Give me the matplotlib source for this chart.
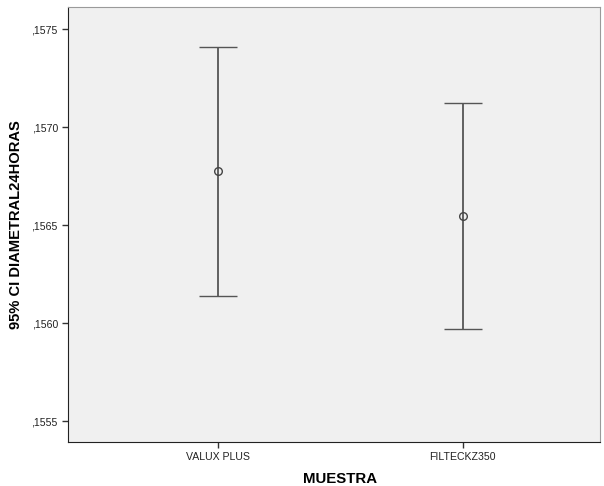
import matplotlib
matplotlib.use("Agg")
import matplotlib.pyplot as plt
from matplotlib.ticker import FuncFormatter

# datos
muestras = ['VALUX PLUS', 'FILTECKZ350']
media = [0.156775, 0.156547]
ic_inf = [0.156139, 0.155968]
ic_sup = [0.157411, 0.157125]
yticks = [0.1555, 0.1560, 0.1565, 0.1570, 0.1575]

plt.rcParams['font.family'] = ['Liberation Sans', 'DejaVu Sans']

fig = plt.figure(figsize=(6.04, 4.86), dpi=100)
ax = fig.add_axes([68/604, 44/486, 532/604, 435/486])
ax.set_facecolor('#f0f0f0')

x = list(range(len(muestras)))
err = [[m - lo for m, lo in zip(media, ic_inf)],
       [hi - m for m, hi in zip(media, ic_sup)]]
ax.errorbar(x, media, yerr=err, fmt='o', color='#555555', mfc='none',
            mec='#444444', ms=5.5, mew=1, elinewidth=1.3, capsize=13.7, capthick=1.3)

ax.set_xlim(-0.612, 1.56)
ax.set_ylim(0.155393, 0.157614)
ax.set_xticks(x)
ax.set_xticklabels(muestras)
ax.set_yticks(yticks)
ax.yaxis.set_major_formatter(FuncFormatter(lambda v, p: ('%.4f' % v).replace('0.', ',')))
ax.tick_params(axis='both', direction='out', length=4.3, width=1, pad=3, color='#333333',
               labelsize=7.6, labelcolor='#222222')

for s in ['left', 'bottom']:
    ax.spines[s].set_color('#222222')
for s in ['top', 'right']:
    ax.spines[s].set_color('#9a9a9a')

ax.set_xlabel('MUESTRA', fontsize=10.8, fontweight='bold', labelpad=7)
ax.xaxis.label.set_x(0.511)
ax.set_ylabel('95% CI DIAMETRAL24HORAS', fontsize=10.6, fontweight='bold', labelpad=6)

fig.savefig('out.png', dpi=100)
